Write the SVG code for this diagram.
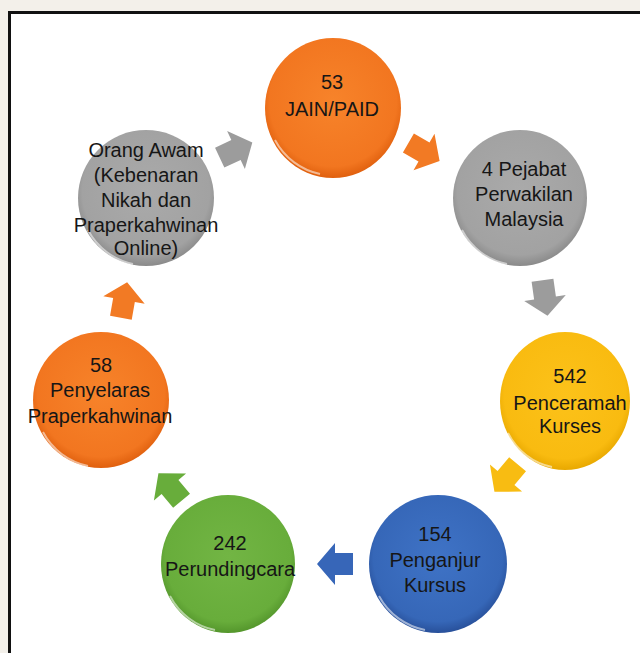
<svg xmlns="http://www.w3.org/2000/svg" xmlns:xlink="http://www.w3.org/1999/xlink" width="640" height="653" viewBox="0 0 640 653">
<style>
.t{font-family:"Liberation Sans",Arial,sans-serif;font-size:20px;fill:#161616;text-anchor:middle}
.rim{fill:none;stroke:#ffffff;stroke-opacity:0.55;stroke-width:2}
</style>
<defs>
<radialGradient id="gOr" cx="0.5" cy="0.45" r="0.55"><stop offset="0" stop-color="#f7832a"/><stop offset="0.85" stop-color="#f27620"/><stop offset="1" stop-color="#e0600e"/></radialGradient>
<radialGradient id="gGr" cx="0.5" cy="0.45" r="0.55"><stop offset="0" stop-color="#aaaaaa"/><stop offset="0.85" stop-color="#a2a2a2"/><stop offset="1" stop-color="#8a8a8a"/></radialGradient>
<radialGradient id="gYe" cx="0.5" cy="0.45" r="0.55"><stop offset="0" stop-color="#fcc21a"/><stop offset="0.85" stop-color="#f9bb10"/><stop offset="1" stop-color="#e8a800"/></radialGradient>
<radialGradient id="gBl" cx="0.5" cy="0.45" r="0.55"><stop offset="0" stop-color="#3f73c6"/><stop offset="0.85" stop-color="#3667b8"/><stop offset="1" stop-color="#28509a"/></radialGradient>
<radialGradient id="gGn" cx="0.5" cy="0.45" r="0.55"><stop offset="0" stop-color="#72b544"/><stop offset="0.85" stop-color="#68ad3b"/><stop offset="1" stop-color="#54962c"/></radialGradient>
<path id="arr" d="M-18,-11 L0,-11 L0,-21 L18,0 L0,21 L0,11 L-18,11 Z"/>
</defs>
<rect x="0" y="0" width="640" height="653" fill="#f3f0ea"/>
<rect x="9.5" y="12.5" width="640" height="660" fill="#ffffff" stroke="#111111" stroke-width="3"/>

<g id="connectors">
<use xlink:href="#arr" href="#arr" fill="#f27a24" transform="translate(424,152) rotate(30)"/>
<use xlink:href="#arr" href="#arr" fill="#9c9c9c" transform="translate(545,298) rotate(82)"/>
<use xlink:href="#arr" href="#arr" fill="#f8bc12" transform="translate(506,478) rotate(130)"/>
<use xlink:href="#arr" href="#arr" fill="#3766b8" transform="translate(335,564) rotate(180)"/>
<use xlink:href="#arr" href="#arr" fill="#68ad3b" transform="translate(170,487) rotate(230)"/>
<use xlink:href="#arr" href="#arr" fill="#f27a24" transform="translate(124,300) rotate(280)"/>
<use xlink:href="#arr" href="#arr" fill="#9c9c9c" transform="translate(236,150) rotate(335)"/>
</g>

<g id="node-jain">
<ellipse cx="333" cy="108" rx="68" ry="70" fill="url(#gOr)"/>
<path class="rim" d="M275,140 A66,68 0 0 0 320,174"/>
<text class="t" x="332" y="89">53</text>
<text class="t" x="332" y="116">JAIN/PAID</text>
</g>

<g id="node-pejabat">
<ellipse cx="520" cy="198" rx="67" ry="68" fill="url(#gGr)"/>
<path class="rim" d="M462,230 A65,66 0 0 0 507,264"/>
<text class="t" x="524" y="176">4 Pejabat</text>
<text class="t" x="524" y="201">Perwakilan</text>
<text class="t" x="524" y="226">Malaysia</text>
</g>

<g id="node-penceramah">
<ellipse cx="565" cy="401" rx="65" ry="69" fill="url(#gYe)"/>
<path class="rim" d="M508,433 A63,67 0 0 0 552,467"/>
<text class="t" x="570" y="383">542</text>
<text class="t" x="570" y="410">Penceramah</text>
<text class="t" x="570" y="433">Kurses</text>
</g>

<g id="node-penganjur">
<ellipse cx="438" cy="564" rx="69" ry="69" fill="url(#gBl)"/>
<path class="rim" d="M379,596 A67,67 0 0 0 425,630"/>
<text class="t" x="435" y="541">154</text>
<text class="t" x="435" y="567">Penganjur</text>
<text class="t" x="435" y="592">Kursus</text>
</g>

<g id="node-perundingcara">
<ellipse cx="228" cy="564" rx="67" ry="69" fill="url(#gGn)"/>
<path class="rim" d="M170,596 A65,67 0 0 0 215,630"/>
<text class="t" x="230" y="550">242</text>
<text class="t" x="230" y="576">Perundingcara</text>
</g>

<g id="node-penyelaras">
<ellipse cx="101" cy="400" rx="68" ry="68" fill="url(#gOr)"/>
<path class="rim" d="M43,432 A66,66 0 0 0 88,466"/>
<text class="t" x="101" y="372">58</text>
<text class="t" x="100" y="397">Penyelaras</text>
<text class="t" x="100" y="423">Praperkahwinan</text>
</g>

<g id="node-orang-awam">
<ellipse cx="146" cy="198" rx="68" ry="68" fill="url(#gGr)"/>
<path class="rim" d="M88,230 A66,66 0 0 0 133,264"/>
<text class="t" x="146" y="157">Orang Awam</text>
<text class="t" x="146" y="182">(Kebenaran</text>
<text class="t" x="146" y="207">Nikah dan</text>
<text class="t" x="146" y="232">Praperkahwinan</text>
<text class="t" x="146" y="255">Online)</text>
</g>
</svg>
